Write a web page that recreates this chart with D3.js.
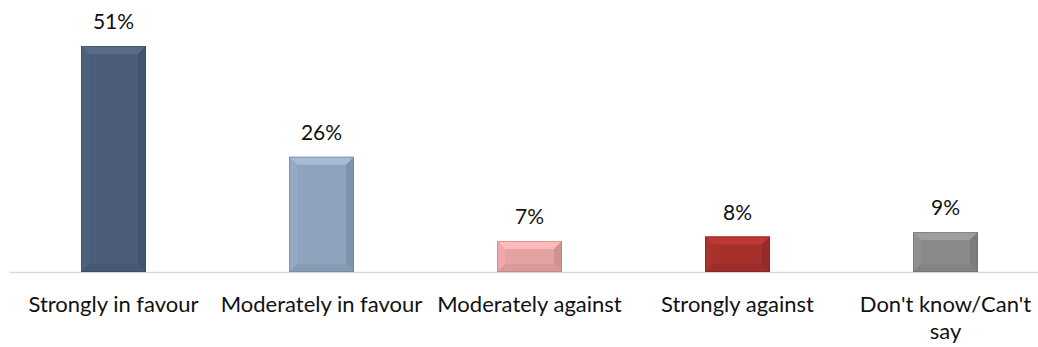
<!DOCTYPE html>
<html>
<head>
<meta charset="utf-8">
<script src="https://cdn.jsdelivr.net/npm/d3@7"></script>
<style>
  html, body { margin: 0; padding: 0; background: #fff; }
  svg { display: block; }
  text { font-family: Lato, "Liberation Sans", Arial, sans-serif; fill: #111; }
</style>
</head>
<body>
<svg id="chart" width="1038" height="347"></svg>
<script>
// Survey responses
const categories = ["Strongly in favour", "Moderately in favour", "Moderately against", "Strongly against", "Don't know/Can't say"];
const values = [51, 26, 7, 8, 9];
const valueLabels = ["51%", "26%", "7%", "8%", "9%"];
const barColors = ["#4b5d78", "#8ea3bd", "#e5a2a2", "#a5302c", "#8a8a8a"];

const width = 1038, height = 347;
const baseY = 272;
const valueFont = 21;
const catFont = 22;

const svg = d3.select("#chart");

const x = d3.scaleBand()
  .domain(categories)
  .range([9.5, 1049.5])
  .paddingInner(0.6875)
  .paddingOuter(0.34375);

const y = d3.scaleLinear()
  .domain([0, 51])
  .range([baseY, 46]);

// Baseline axis
svg.append("line")
  .attr("x1", 10).attr("x2", width)
  .attr("y1", baseY + 0.5).attr("y2", baseY + 0.5)
  .attr("stroke", "#d9d9d9").attr("stroke-width", 1.5);

// Bevelled bars
const bev = 8;
const bars = svg.append("g").selectAll("g.bar")
  .data(values.map((v, i) => ({ v, i, c: categories[i] })))
  .join("g").attr("class", "bar");

bars.each(function (d) {
  const g = d3.select(this);
  const x0 = x(d.c), w = x.bandwidth();
  const y0 = y(d.v), h = baseY - y0;
  const b = Math.min(bev, h / 3);
  const col = d3.color(barColors[d.i]);
  const x1 = x0 + w, y1 = y0 + h;
  g.append("rect").attr("x", x0).attr("y", y0).attr("width", w).attr("height", h).attr("fill", col);
  // top face
  g.append("polygon")
    .attr("points", [[x0, y0], [x1, y0], [x1 - b, y0 + b], [x0 + b, y0 + b]].join(" "))
    .attr("fill", col.brighter(0.4));
  // left face
  g.append("polygon")
    .attr("points", [[x0, y0], [x0 + b, y0 + b], [x0 + b, y1 - b], [x0, y1]].join(" "))
    .attr("fill", col.brighter(0.12));
  // right face
  g.append("polygon")
    .attr("points", [[x1, y0], [x1, y1], [x1 - b, y1 - b], [x1 - b, y0 + b]].join(" "))
    .attr("fill", col.darker(0.3));
  // bottom face
  g.append("polygon")
    .attr("points", [[x0, y1], [x0 + b, y1 - b], [x1 - b, y1 - b], [x1, y1]].join(" "))
    .attr("fill", col.darker(0.15));
  g.append("rect").attr("x", x0 + 0.5).attr("y", y0 + 0.5).attr("width", w - 1).attr("height", h - 1)
    .attr("fill", "none").attr("stroke", col.darker(0.8)).attr("stroke-width", 1).attr("stroke-opacity", 0.5);
});

// Value labels
svg.append("g").selectAll("text")
  .data(values)
  .join("text")
  .attr("x", (d, i) => x(categories[i]) + x.bandwidth() / 2)
  .attr("y", d => y(d) - 17)
  .attr("text-anchor", "middle")
  .attr("font-size", valueFont)
  .text((d, i) => valueLabels[i]);

// Category labels (wrapped)
const wrapped = {
  "Don't know/Can't say": ["Don't know/Can't", "say"]
};
const catG = svg.append("g");
categories.forEach(c => {
  const lines = wrapped[c] || [c];
  const cx = x(c) + x.bandwidth() / 2;
  const t = catG.append("text")
    .attr("x", cx)
    .attr("y", 312)
    .attr("text-anchor", "middle")
    .attr("font-size", catFont);
  lines.forEach((ln, k) => {
    t.append("tspan").attr("x", cx).attr("dy", k === 0 ? 0 : 27).text(ln);
  });
});
</script>
</body>
</html>
